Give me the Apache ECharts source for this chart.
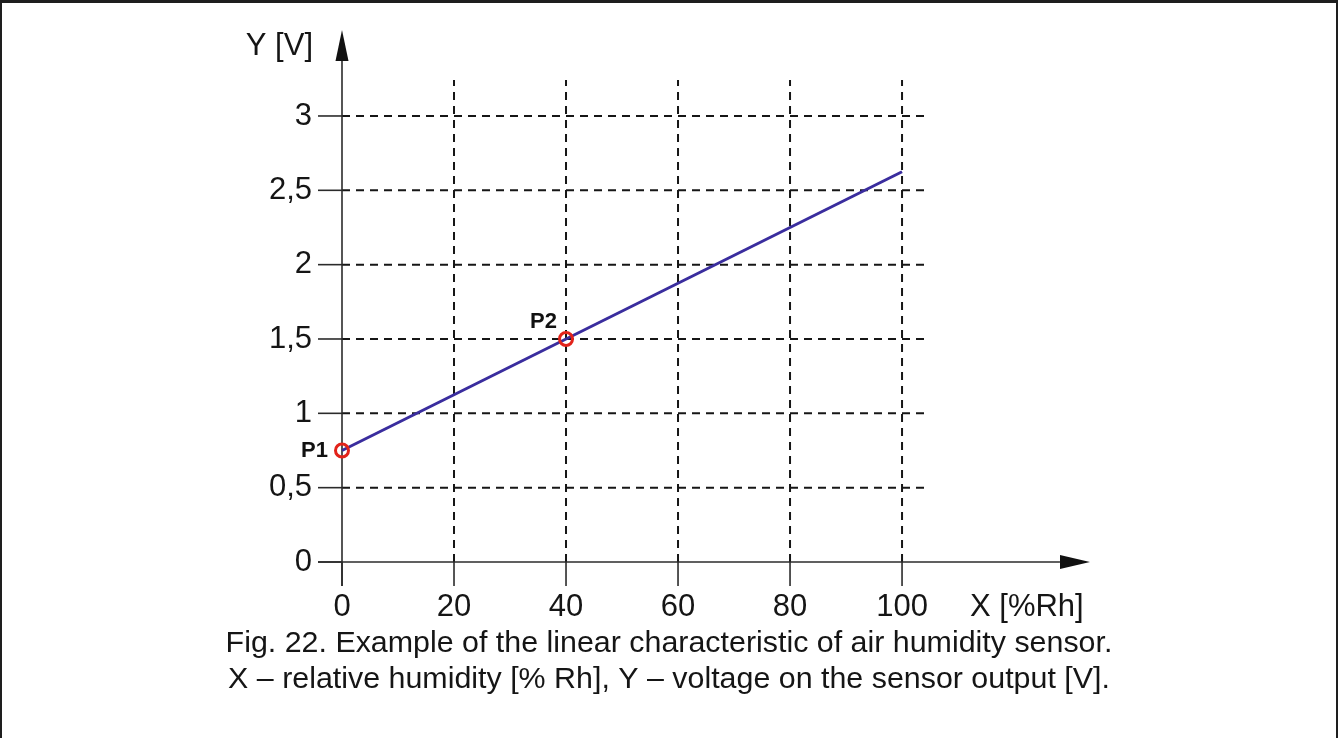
<!DOCTYPE html>
<html>
<head>
<meta charset="utf-8">
<script src="https://cdn.jsdelivr.net/npm/echarts@6/dist/echarts.min.js"></script>
<style>
  html, body { margin: 0; padding: 0; background: #fff; }
  #chart { position: absolute; left: 0; top: 0; width: 1338px; height: 738px; }
  #frame {
    position: absolute; left: 0; top: 0; width: 1334px; height: 735px;
    border-top: 3px solid #1e1e1e; border-left: 2px solid #1e1e1e; border-right: 2px solid #1e1e1e;
    pointer-events: none;
  }
</style>
</head>
<body>
<div id="chart"></div>
<div id="frame"></div>
<script>
// Tick values of both axes
const xTicks = [0, 20, 40, 60, 80, 100];
const yTicks = [0, 0.5, 1, 1.5, 2, 2.5, 3];
// Dashed reference grid
const xGrid = [20, 40, 60, 80, 100];
const yGrid = [0.5, 1, 1.5, 2, 2.5, 3];
// Sensor characteristic: humidity [%Rh] -> output voltage [V]
const characteristic = [[0, 0.75], [100, 2.625]];
// Calibration points
const pointNames = ['P1', 'P2'];
const pointValues = [[0, 0.75], [40, 1.5]];
// Axis names and caption
const xName = 'X [%Rh]';
const yName = 'Y [V]';
const captionLines = [
  'Fig. 22. Example of the linear characteristic of air humidity sensor.',
  'X \u2013 relative humidity [% Rh], Y \u2013 voltage on the sensor output [V].'
];

const FONT = '"Liberation Sans", Arial, sans-serif';
const TEXT = '#151515';
const AXIS = '#2b2b2b';
const LABEL_SIZE = 31;

// Scale extents (plot area) and where the arrowed axes end
const X_MAX = 104.1, Y_MAX = 3.242;
const X_AXIS_END = 128.2, Y_AXIS_END = 3.37;
const TICK = 24;

function fmtComma(v) { return String(v).replace('.', ','); }

function renderFrame(params, api) {
  const o = api.coord([0, 0]);
  const right = api.coord([X_MAX, 0])[0];
  const top = api.coord([0, Y_MAX])[1];
  const xEnd = api.coord([X_AXIS_END, 0])[0];
  const yEnd = api.coord([0, Y_AXIS_END])[1];
  const dash = { stroke: '#161616', lineWidth: 2, lineDash: [8, 6], fill: null };
  const solid = { stroke: AXIS, lineWidth: 1.6, fill: null };
  const children = [];
  xGrid.forEach(function (v) {
    const x = api.coord([v, 0])[0];
    children.push({ type: 'line', shape: { x1: x, y1: o[1], x2: x, y2: top }, style: dash });
  });
  yGrid.forEach(function (v) {
    const y = api.coord([0, v])[1];
    children.push({ type: 'line', shape: { x1: o[0], y1: y, x2: right, y2: y }, style: dash });
  });
  xTicks.forEach(function (v) {
    const x = api.coord([v, 0])[0];
    children.push({ type: 'line', shape: { x1: x, y1: o[1], x2: x, y2: o[1] + TICK }, style: solid });
  });
  yTicks.forEach(function (v) {
    const y = api.coord([0, v])[1];
    children.push({ type: 'line', shape: { x1: o[0] - TICK, y1: y, x2: o[0], y2: y }, style: solid });
  });
  children.push({ type: 'line', shape: { x1: o[0] - TICK, y1: o[1], x2: xEnd, y2: o[1] }, style: solid });
  children.push({ type: 'line', shape: { x1: o[0], y1: o[1] + TICK, x2: o[0], y2: yEnd }, style: solid });
  children.push({ type: 'polygon', shape: { points: [[xEnd, o[1] - 7], [xEnd + 30, o[1]], [xEnd, o[1] + 7]] }, style: { fill: '#111' } });
  children.push({ type: 'polygon', shape: { points: [[o[0] - 6.5, yEnd], [o[0], yEnd - 31], [o[0] + 6.5, yEnd]] }, style: { fill: '#111' } });
  return { type: 'group', children: children };
}

const chart = echarts.init(document.getElementById('chart'), null, { renderer: 'canvas' });
chart.setOption({
  animation: false,
  backgroundColor: '#fff',
  textStyle: { fontFamily: FONT },
  title: captionLines.map(function (t, i) {
    return {
      text: t, left: 'center', top: 629 + i * 36, padding: 0,
      textStyle: { fontFamily: FONT, fontSize: 30.4, fontWeight: 'normal', color: TEXT, lineHeight: 30 }
    };
  }),
  grid: { left: 342, top: 80, width: 583, height: 482, containLabel: false },
  xAxis: {
    type: 'value', min: 0, max: X_MAX, interval: 20,
    axisLine: { show: false }, axisTick: { show: false }, splitLine: { show: false },
    axisLabel: {
      margin: 30, fontSize: LABEL_SIZE, color: TEXT, fontFamily: FONT,
      formatter: function (v) { return xTicks.indexOf(v) >= 0 ? String(v) : ''; }
    },
    name: xName, nameLocation: 'end', nameGap: 45,
    nameTextStyle: { fontSize: LABEL_SIZE, color: TEXT, fontFamily: FONT, align: 'left', verticalAlign: 'top', padding: [30, 0, 0, 0] }
  },
  yAxis: {
    type: 'value', min: 0, max: Y_MAX, interval: 0.5,
    axisLine: { show: false }, axisTick: { show: false }, splitLine: { show: false },
    axisLabel: {
      margin: 30, fontSize: LABEL_SIZE, color: TEXT, fontFamily: FONT,
      formatter: function (v) { return yTicks.indexOf(v) >= 0 ? fmtComma(v) : ''; }
    },
    name: yName, nameLocation: 'end', nameGap: 18,
    nameTextStyle: { fontSize: LABEL_SIZE, color: TEXT, fontFamily: FONT, align: 'right', verticalAlign: 'bottom', padding: [0, 29, 0, 0] }
  },
  series: [
    {
      type: 'custom', name: 'frame', clip: false, z: 1, silent: true,
      data: [[0, 0]], renderItem: renderFrame
    },
    {
      type: 'line', name: 'characteristic', data: characteristic, z: 3,
      showSymbol: false, silent: true,
      lineStyle: { color: '#3a2d9e', width: 3 }
    },
    {
      type: 'scatter', name: 'points', z: 4, silent: true,
      symbol: 'circle', symbolSize: 13,
      itemStyle: { color: 'rgba(0,0,0,0)', borderColor: '#e2231a', borderWidth: 3, opacity: 1 },
      data: pointValues.map(function (p, i) {
        return {
          name: pointNames[i], value: p,
          label: i === 0
            ? { show: true, position: 'left', distance: 6 }
            : { show: true, position: 'left', distance: 1, offset: [0, -17] }
        };
      }),
      label: {
        formatter: '{b}', fontSize: 22, fontWeight: 'bold', color: '#111', fontFamily: FONT
      }
    }
  ]
});
</script>
</body>
</html>
